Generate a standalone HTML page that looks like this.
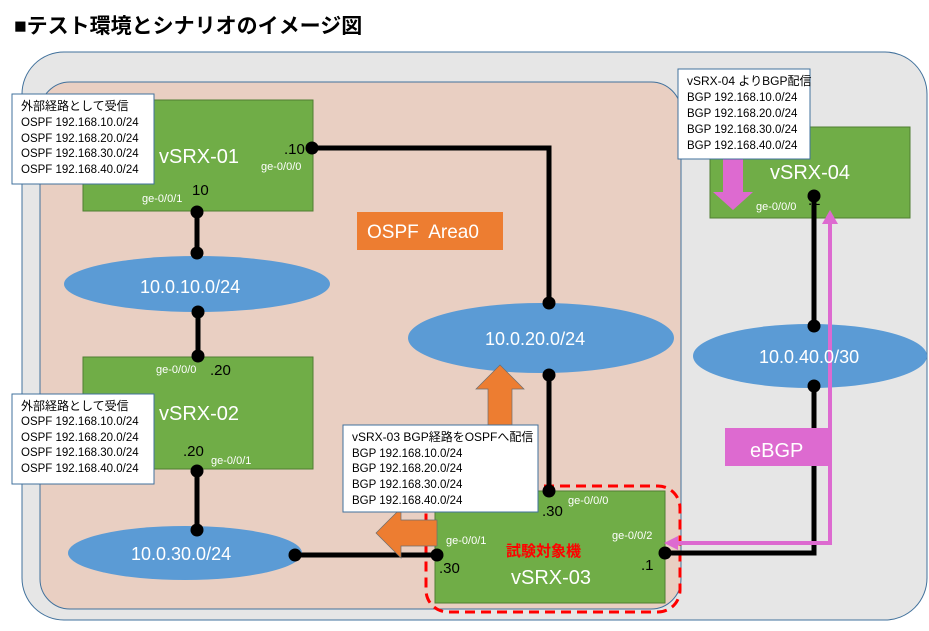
<!DOCTYPE html>
<html><head><meta charset="utf-8"><style>
html,body{margin:0;padding:0;background:#fff;}
svg text{font-family:"Liberation Sans","Noto Sans CJK JP",sans-serif;}
</style></head><body>
<svg width="929" height="626" viewBox="0 0 929 626" xmlns="http://www.w3.org/2000/svg">
<text x="14" y="33" font-size="21" font-weight="600" fill="#000">■テスト環境とシナリオのイメージ図</text>
<rect x="22" y="52" width="905" height="568" rx="42" fill="#e6e6e6" stroke="#41719c" stroke-width="1"/>
<rect x="40" y="82" width="641" height="527" rx="30" fill="#e9cfc2" stroke="#41719c" stroke-width="1"/>
<rect x="83" y="100" width="230" height="111" fill="#70ad47" stroke="#507e32"/>
<rect x="83" y="357" width="230" height="112" fill="#70ad47" stroke="#507e32"/>
<rect x="435" y="491" width="230" height="112" fill="#70ad47" stroke="#507e32"/>
<rect x="710" y="127" width="200" height="91" fill="#70ad47" stroke="#507e32"/>
<ellipse cx="197" cy="284" rx="133" ry="28" fill="#5b9bd5"/>
<ellipse cx="541" cy="338" rx="133" ry="35" fill="#5b9bd5"/>
<ellipse cx="185" cy="553" rx="117" ry="27" fill="#5b9bd5"/>
<ellipse cx="810" cy="356" rx="117" ry="32" fill="#5b9bd5"/>
<rect x="426" y="486" width="254" height="126" rx="22" fill="none" stroke="#ff0000" stroke-width="3" stroke-dasharray="10,6"/>
<g stroke="#000" stroke-width="5" fill="none">
<polyline points="312,148 549,148 549,303"/>
<line x1="197" y1="212" x2="197" y2="253"/>
<line x1="198" y1="312" x2="198" y2="356"/>
<line x1="197" y1="471" x2="197" y2="530"/>
<line x1="549" y1="372" x2="549" y2="490"/>
<line x1="295" y1="555" x2="437" y2="555"/>
<line x1="814" y1="196" x2="814" y2="326"/>
<polyline points="814,386 814,553 665,553"/>
</g>
<g fill="#000">
<circle cx="312" cy="148" r="6.5"/><circle cx="549" cy="303" r="6.5"/>
<circle cx="197" cy="212" r="6.5"/><circle cx="197" cy="253" r="6.5"/>
<circle cx="198" cy="312" r="6.5"/><circle cx="198" cy="356" r="6.5"/>
<circle cx="197" cy="471" r="6.5"/><circle cx="197" cy="530" r="6.5"/>
<circle cx="549" cy="375" r="6.5"/><circle cx="549" cy="491" r="6.5"/>
<circle cx="295" cy="555" r="6.5"/><circle cx="437" cy="555" r="6.5"/>
<circle cx="814" cy="196" r="6.5"/><circle cx="814" cy="326" r="6.5"/>
<circle cx="814" cy="386" r="6.5"/><circle cx="665" cy="553" r="6.5"/>
</g>
<polyline points="670,543 830,543 830,222" fill="none" stroke="#dd6ad0" stroke-width="4"/>
<polygon points="830,210 822,224 838,224" fill="#dd6ad0"/>
<polygon points="664,543 678,536 678,550" fill="#dd6ad0"/>
<polygon points="723,156 743,156 743,192 753,192 733,210 713,192 723,192" fill="#dd6ad0"/>
<rect x="725" y="428" width="105" height="38" fill="#dd6ad0"/>
<text x="750" y="457" font-size="20" fill="#fff">eBGP</text>
<rect x="357" y="212" width="146" height="38" fill="#ed7d31"/>
<text x="367" y="238" font-size="19" fill="#fff" xml:space="preserve">OSPF&#160; Area0</text>
<polygon points="500,365 524,389 512,389 512,425 488,425 488,389 476,389" fill="#ed7d31" stroke="#6d6d6d" stroke-width="0.7"/>
<polygon points="376,533 401,508 401,520 437,520 437,546 401,546 401,558" fill="#ed7d31" stroke="#6d6d6d" stroke-width="0.7"/>
<g fill="#fff" stroke="#41719c" stroke-width="1">
<rect x="12" y="94" width="142" height="90"/>
<rect x="12" y="394" width="142" height="90"/>
<rect x="343" y="425" width="195" height="87"/>
<rect x="678" y="69" width="132" height="90"/>
</g>
<g font-size="11.5" fill="#000">
<text x="21" y="110" font-size="12">外部経路として受信</text>
<text x="21" y="126">OSPF 192.168.10.0/24</text>
<text x="21" y="142">OSPF 192.168.20.0/24</text>
<text x="21" y="157">OSPF 192.168.30.0/24</text>
<text x="21" y="173">OSPF 192.168.40.0/24</text>
<text x="21" y="410" font-size="12">外部経路として受信</text>
<text x="21" y="425">OSPF 192.168.10.0/24</text>
<text x="21" y="441">OSPF 192.168.20.0/24</text>
<text x="21" y="456">OSPF 192.168.30.0/24</text>
<text x="21" y="472">OSPF 192.168.40.0/24</text>
<text x="352" y="441" font-size="12">vSRX-03 BGP経路をOSPFへ配信</text>
<text x="352" y="457">BGP 192.168.10.0/24</text>
<text x="352" y="472">BGP 192.168.20.0/24</text>
<text x="352" y="488">BGP 192.168.30.0/24</text>
<text x="352" y="504">BGP 192.168.40.0/24</text>
<text x="687" y="85" font-size="12">vSRX-04 よりBGP配信</text>
<text x="687" y="101">BGP 192.168.10.0/24</text>
<text x="687" y="117">BGP 192.168.20.0/24</text>
<text x="687" y="133">BGP 192.168.30.0/24</text>
<text x="687" y="149">BGP 192.168.40.0/24</text>
</g>
<g fill="#fff">
<text x="159" y="163" font-size="20">vSRX-01</text>
<text x="159" y="420" font-size="20">vSRX-02</text>
<text x="511" y="584" font-size="20">vSRX-03</text>
<text x="770" y="179" font-size="20">vSRX-04</text>
<text x="140" y="293" font-size="18">10.0.10.0/24</text>
<text x="485" y="345" font-size="18">10.0.20.0/24</text>
<text x="131" y="560" font-size="18">10.0.30.0/24</text>
<text x="759" y="363" font-size="18">10.0.40.0/30</text>
<g font-size="11">
<text x="261" y="170">ge-0/0/0</text>
<text x="142" y="202">ge-0/0/1</text>
<text x="156" y="373">ge-0/0/0</text>
<text x="211" y="464">ge-0/0/1</text>
<text x="568" y="504">ge-0/0/0</text>
<text x="446" y="544">ge-0/0/1</text>
<text x="612" y="539">ge-0/0/2</text>
<text x="756" y="210">ge-0/0/0</text>
</g>
</g>
<g fill="#000" font-size="15">
<text x="284" y="154">.10</text>
<text x="192" y="195">10</text>
<text x="210" y="375">.20</text>
<text x="183" y="456">.20</text>
<text x="542" y="516">.30</text>
<text x="439" y="573">.30</text>
<text x="641" y="570">.1</text>
<text x="808" y="205">.2</text>
</g>
<text x="506" y="556" font-size="15" font-weight="bold" fill="#ff0000">試験対象機</text>
</svg>
</body></html>
